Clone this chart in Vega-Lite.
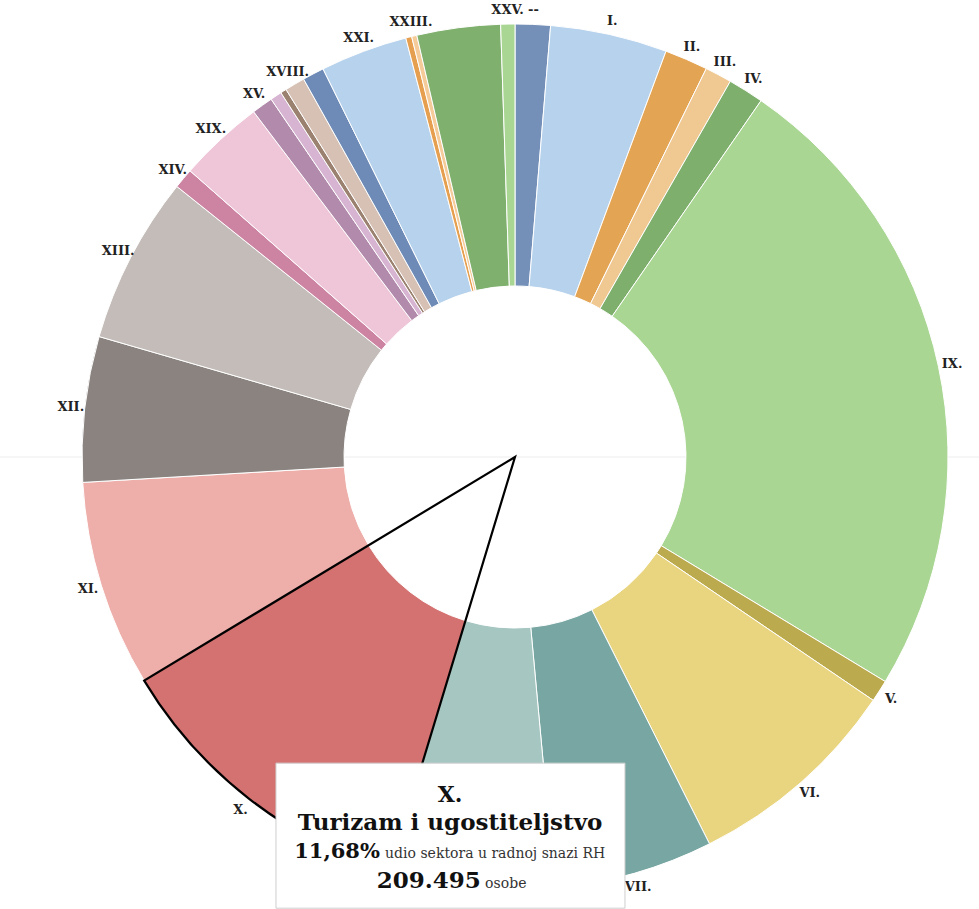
{
  "$schema": "https://vega.github.io/schema/vega-lite/v6.json",
  "autosize": "none",
  "width": 866,
  "height": 866,
  "padding": {"left": 82, "top": 24, "right": 31, "bottom": 19},
  "background": "white",
  "view": {"stroke": null},
  "config": {"font": "DejaVu Serif"},
  "datasets": {
    "sectors": [
      {"sector": "--", "persons": 23517},
      {"sector": "I.", "persons": 78123},
      {"sector": "II.", "persons": 28897},
      {"sector": "III.", "persons": 17936},
      {"sector": "IV.", "persons": 23915},
      {"sector": "IX.", "persons": 431218},
      {"sector": "V.", "persons": 14698},
      {"sector": "VI.", "persons": 144985},
      {"sector": "VII.", "persons": 106621},
      {"sector": "VIII.", "persons": 110109},
      {"sector": "X.", "persons": 209495},
      {"sector": "XI.", "persons": 138010},
      {"sector": "XII.", "persons": 97155},
      {"sector": "XIII.", "persons": 112102},
      {"sector": "XIV.", "persons": 13452},
      {"sector": "XIX.", "persons": 57296},
      {"sector": "XV.", "persons": 14200},
      {"sector": "XVI.", "persons": 7723},
      {"sector": "XVII.", "persons": 3986},
      {"sector": "XVIII.", "persons": 13452},
      {"sector": "XX.", "persons": 14449},
      {"sector": "XXI.", "persons": 58293},
      {"sector": "XXII.", "persons": 3986},
      {"sector": "XXIII.", "persons": 3488},
      {"sector": "XXIV.", "persons": 55802},
      {"sector": "XXV.", "persons": 9466}
    ],
    "tip": [
      {"part": "sector", "text": "X."},
      {"part": "name", "text": "Turizam i ugostiteljstvo"},
      {"part": "share", "text": "11,68%"},
      {"part": "shareLabel", "text": "udio sektora u radnoj snazi RH"},
      {"part": "count", "text": "209.495"},
      {"part": "countLabel", "text": "osobe"}
    ]
  },
  "layer": [
    {
      "data": {"values": [{"axis": "zero"}]},
      "mark": {"type": "rule", "color": "#ededed", "strokeWidth": 1},
      "encoding": {
        "x": {"datum": -1.19, "type": "quantitative", "scale": {"domain": [-1, 1], "nice": false, "zero": false}, "axis": null},
        "x2": {"datum": 1.08},
        "y": {"datum": 0, "type": "quantitative", "scale": {"domain": [-1, 1], "nice": false, "zero": false}, "axis": null}
      }
    },
    {
      "data": {"name": "sectors"},
      "mark": {"type": "arc", "innerRadius": 171, "outerRadius": 433, "stroke": "white", "strokeWidth": 1},
      "encoding": {
        "theta": {"field": "persons", "type": "quantitative", "stack": true},
        "color": {
          "field": "sector",
          "type": "nominal",
          "legend": null,
          "scale": {
            "domain": ["--", "I.", "II.", "III.", "IV.", "IX.", "V.", "VI.", "VII.", "VIII.", "X.", "XI.", "XII.", "XIII.", "XIV.", "XIX.", "XV.", "XVI.", "XVII.", "XVIII.", "XX.", "XXI.", "XXII.", "XXIII.", "XXIV.", "XXV."],
            "range": ["#7590b8", "#b7d2ec", "#e3a454", "#f0c892", "#7eaf6c", "#a9d692", "#bcaa4f", "#e9d57f", "#78a7a3", "#a6c6c1", "#d47271", "#eeaeaa", "#8a8380", "#c3bcb8", "#cd84a3", "#efc6d8", "#b28aab", "#d6b4d2", "#9b8270", "#d6c1b4", "#6d8bb6", "#b7d2ec", "#e59f4f", "#f5cc99", "#80b06e", "#a9d692"]
          }
        }
      }
    },
    {
      "data": {"name": "sectors"},
      "mark": {"type": "arc", "innerRadius": 0, "outerRadius": 433, "fillOpacity": 0, "stroke": "black", "strokeWidth": 2.2, "strokeJoin": "miter"},
      "encoding": {
        "theta": {"field": "persons", "type": "quantitative", "stack": true},
        "detail": {"field": "sector", "type": "nominal"},
        "strokeOpacity": {"condition": {"test": "datum.sector === 'X.'", "value": 1}, "value": 0}
      }
    },
    {
      "data": {"name": "sectors"},
      "mark": {"type": "text", "radius": 447, "font": "DejaVu Serif", "fontWeight": "bold", "fontSize": 13, "fill": "#222222"},
      "encoding": {
        "theta": {"field": "persons", "type": "quantitative", "stack": true},
        "detail": {"field": "sector", "type": "nominal"},
        "text": {"field": "sector", "type": "nominal"},
        "opacity": {"condition": {"test": "indexof(['VIII.', 'XVI.', 'XVII.', 'XX.', 'XXII.', 'XXIV.'], datum.sector) >= 0", "value": 0}, "value": 1}
      }
    },
    {
      "data": {"values": [{"box": "tooltip"}]},
      "mark": {"type": "rect", "fill": "white", "stroke": "#cfcfcf", "strokeWidth": 1},
      "encoding": {
        "x": {"datum": -0.552, "type": "quantitative", "scale": {"domain": [-1, 1], "nice": false, "zero": false}, "axis": null},
        "x2": {"datum": 0.254},
        "y": {"datum": -0.707, "type": "quantitative", "scale": {"domain": [-1, 1], "nice": false, "zero": false}, "axis": null},
        "y2": {"datum": -1.042}
      }
    },
    {
      "data": {"name": "tip"},
      "transform": [{"filter": "datum.part === 'sector'"}],
      "mark": {"type": "text", "font": "DejaVu Serif", "fontWeight": "bold", "fontSize": 22, "align": "center", "baseline": "alphabetic", "fill": "#111"},
      "encoding": {
        "x": {"datum": -0.15, "type": "quantitative", "scale": {"domain": [-1, 1], "nice": false, "zero": false}, "axis": null},
        "y": {"datum": -0.797, "type": "quantitative", "scale": {"domain": [-1, 1], "nice": false, "zero": false}, "axis": null},
        "text": {"field": "text"}
      }
    },
    {
      "data": {"name": "tip"},
      "transform": [{"filter": "datum.part === 'name'"}],
      "mark": {"type": "text", "font": "DejaVu Serif", "fontWeight": "bold", "fontSize": 23, "align": "center", "baseline": "alphabetic", "fill": "#111"},
      "encoding": {
        "x": {"datum": -0.15, "type": "quantitative", "scale": {"domain": [-1, 1], "nice": false, "zero": false}, "axis": null},
        "y": {"datum": -0.861, "type": "quantitative", "scale": {"domain": [-1, 1], "nice": false, "zero": false}, "axis": null},
        "text": {"field": "text"}
      }
    },
    {
      "data": {"name": "tip"},
      "transform": [{"filter": "datum.part === 'share'"}],
      "mark": {"type": "text", "font": "DejaVu Serif", "fontWeight": "bold", "fontSize": 21, "align": "right", "baseline": "alphabetic", "fill": "#111"},
      "encoding": {
        "x": {"datum": -0.312, "type": "quantitative", "scale": {"domain": [-1, 1], "nice": false, "zero": false}, "axis": null},
        "y": {"datum": -0.926, "type": "quantitative", "scale": {"domain": [-1, 1], "nice": false, "zero": false}, "axis": null},
        "text": {"field": "text"}
      }
    },
    {
      "data": {"name": "tip"},
      "transform": [{"filter": "datum.part === 'shareLabel'"}],
      "mark": {"type": "text", "font": "DejaVu Serif", "fontSize": 14, "align": "left", "baseline": "alphabetic", "fill": "#333"},
      "encoding": {
        "x": {"datum": -0.3, "type": "quantitative", "scale": {"domain": [-1, 1], "nice": false, "zero": false}, "axis": null},
        "y": {"datum": -0.926, "type": "quantitative", "scale": {"domain": [-1, 1], "nice": false, "zero": false}, "axis": null},
        "text": {"field": "text"}
      }
    },
    {
      "data": {"name": "tip"},
      "transform": [{"filter": "datum.part === 'count'"}],
      "mark": {"type": "text", "font": "DejaVu Serif", "fontWeight": "bold", "fontSize": 23, "align": "right", "baseline": "alphabetic", "fill": "#111"},
      "encoding": {
        "x": {"datum": -0.079, "type": "quantitative", "scale": {"domain": [-1, 1], "nice": false, "zero": false}, "axis": null},
        "y": {"datum": -0.995, "type": "quantitative", "scale": {"domain": [-1, 1], "nice": false, "zero": false}, "axis": null},
        "text": {"field": "text"}
      }
    },
    {
      "data": {"name": "tip"},
      "transform": [{"filter": "datum.part === 'countLabel'"}],
      "mark": {"type": "text", "font": "DejaVu Serif", "fontSize": 14, "align": "left", "baseline": "alphabetic", "fill": "#333"},
      "encoding": {
        "x": {"datum": -0.069, "type": "quantitative", "scale": {"domain": [-1, 1], "nice": false, "zero": false}, "axis": null},
        "y": {"datum": -0.995, "type": "quantitative", "scale": {"domain": [-1, 1], "nice": false, "zero": false}, "axis": null},
        "text": {"field": "text"}
      }
    }
  ]
}
